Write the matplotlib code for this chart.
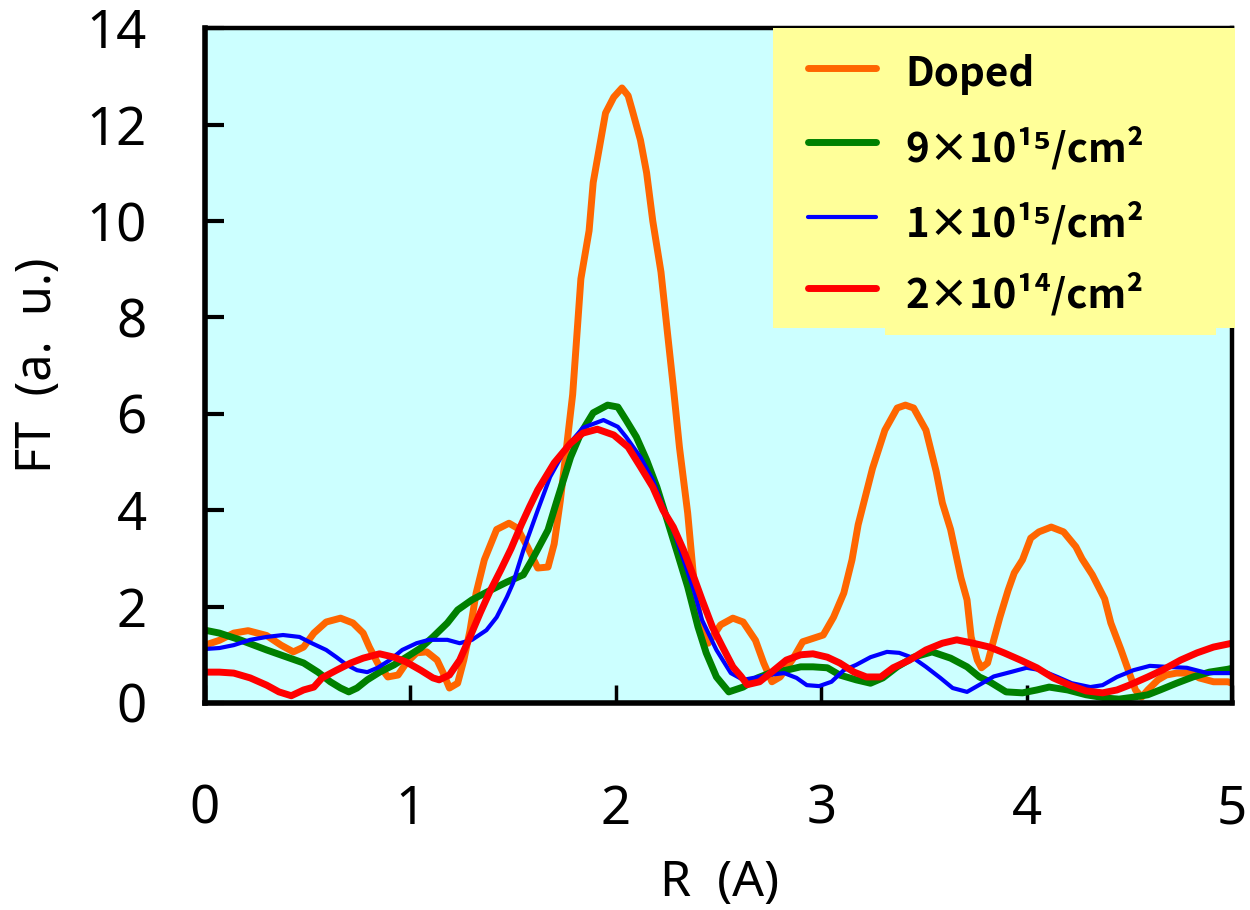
import matplotlib
matplotlib.use('Agg')
import matplotlib.pyplot as plt
from matplotlib.patches import Rectangle
from matplotlib.lines import Line2D

plt.rcParams['font.family'] = ['Noto Sans', 'DejaVu Sans']

# R (A) and FT amplitude for each sample
r_doped = [0.00, 0.07, 0.14, 0.21, 0.30, 0.37, 0.43, 0.48, 0.53, 0.59, 0.66, 0.72, 0.77, 0.80,
           0.84, 0.89, 0.94, 0.98, 1.03, 1.08, 1.13, 1.16, 1.19, 1.23, 1.26, 1.29, 1.32, 1.36,
           1.42, 1.48, 1.52, 1.57, 1.62, 1.67, 1.70, 1.73, 1.76, 1.79, 1.81, 1.83, 1.87, 1.89,
           1.95, 1.99, 2.03, 2.06, 2.08, 2.12, 2.15, 2.18, 2.22, 2.25, 2.28, 2.31, 2.35, 2.38,
           2.41, 2.45, 2.51, 2.57, 2.62, 2.68, 2.72, 2.76, 2.80, 2.86, 2.91, 3.01, 3.06, 3.11,
           3.15, 3.18, 3.25, 3.31, 3.37, 3.41, 3.45, 3.51, 3.56, 3.59, 3.63, 3.68, 3.71, 3.73,
           3.76, 3.78, 3.81, 3.84, 3.87, 3.91, 3.94, 3.98, 4.02, 4.06, 4.12, 4.18, 4.24, 4.27,
           4.32, 4.38, 4.41, 4.46, 4.50, 4.53, 4.56, 4.59, 4.64, 4.68, 4.73, 4.80, 4.84, 4.91,
           4.98, 5.00]
ft_doped = [1.20, 1.30, 1.45, 1.50, 1.40, 1.20, 1.06, 1.16, 1.45, 1.68, 1.76, 1.66, 1.45, 1.16,
            0.83, 0.54, 0.58, 0.83, 1.04, 1.06, 0.89, 0.62, 0.31, 0.41, 0.89, 1.50, 2.28, 2.97,
            3.60, 3.73, 3.63, 3.24, 2.80, 2.82, 3.30, 4.20, 5.30, 6.40, 7.60, 8.80, 9.80, 10.80,
            12.24, 12.57, 12.76, 12.60, 12.30, 11.68, 11.00, 10.00, 8.94, 7.74, 6.56, 5.30, 3.94, 2.55,
            1.72, 1.24, 1.62, 1.76, 1.68, 1.30, 0.83, 0.44, 0.54, 0.90, 1.27, 1.41, 1.78, 2.28,
            2.97, 3.70, 4.87, 5.66, 6.12, 6.18, 6.12, 5.66, 4.80, 4.15, 3.60, 2.60, 2.14, 1.37,
            0.89, 0.73, 0.83, 1.31, 1.78, 2.34, 2.70, 2.97, 3.42, 3.55, 3.65, 3.55, 3.24, 2.99,
            2.66, 2.16, 1.66, 1.10, 0.62, 0.27, 0.12, 0.27, 0.48, 0.58, 0.62, 0.62, 0.52, 0.44,
            0.44, 0.41]

r_9e15 = [0.00, 0.07, 0.17, 0.30, 0.40, 0.48, 0.55, 0.61, 0.66, 0.70, 0.74, 0.79, 0.85, 0.92,
          0.98, 1.05, 1.11, 1.18, 1.23, 1.30, 1.39, 1.47, 1.55, 1.60, 1.67, 1.71, 1.78, 1.83,
          1.89, 1.96, 2.01, 2.05, 2.10, 2.15, 2.20, 2.25, 2.30, 2.35, 2.40, 2.44, 2.49, 2.55,
          2.62, 2.69, 2.75, 2.83, 2.90, 2.96, 3.03, 3.09, 3.17, 3.24, 3.30, 3.37, 3.45, 3.54,
          3.63, 3.71, 3.77, 3.82, 3.90, 3.98, 4.05, 4.11, 4.20, 4.29, 4.39, 4.45, 4.52, 4.59,
          4.65, 4.73, 4.81, 4.89, 4.98, 5.00]
ft_9e15 = [1.51, 1.45, 1.31, 1.10, 0.95, 0.83, 0.64, 0.44, 0.31, 0.23, 0.31, 0.48, 0.64, 0.79,
           0.95, 1.14, 1.37, 1.66, 1.93, 2.14, 2.34, 2.51, 2.66, 3.03, 3.59, 4.15, 5.10, 5.60,
           6.02, 6.18, 6.14, 5.87, 5.52, 5.04, 4.48, 3.80, 3.11, 2.41, 1.58, 1.04, 0.54, 0.23,
           0.33, 0.52, 0.62, 0.68, 0.75, 0.75, 0.73, 0.58, 0.48, 0.41, 0.52, 0.75, 0.95, 1.06,
           0.93, 0.75, 0.54, 0.44, 0.23, 0.21, 0.27, 0.33, 0.27, 0.17, 0.10, 0.08, 0.12, 0.17,
           0.27, 0.41, 0.54, 0.64, 0.70, 0.72]

r_1e15 = [0.00, 0.07, 0.14, 0.22, 0.30, 0.38, 0.46, 0.52, 0.59, 0.64, 0.69, 0.74, 0.79, 0.84,
          0.90, 0.96, 1.03, 1.09, 1.18, 1.24, 1.30, 1.37, 1.42, 1.47, 1.50, 1.55, 1.62, 1.68,
          1.76, 1.84, 1.94, 2.01, 2.05, 2.12, 2.18, 2.23, 2.28, 2.33, 2.38, 2.42, 2.49, 2.56,
          2.62, 2.67, 2.74, 2.82, 2.88, 2.93, 2.99, 3.05, 3.11, 3.17, 3.24, 3.32, 3.38, 3.45,
          3.51, 3.58, 3.64, 3.71, 3.78, 3.84, 3.93, 4.00, 4.07, 4.15, 4.22, 4.31, 4.37, 4.44,
          4.52, 4.60, 4.68, 4.78, 4.88, 4.98, 5.00]
ft_1e15 = [1.12, 1.14, 1.20, 1.31, 1.37, 1.41, 1.37, 1.24, 1.10, 0.95, 0.79, 0.68, 0.64, 0.73,
           0.89, 1.10, 1.24, 1.31, 1.31, 1.24, 1.31, 1.51, 1.78, 2.20, 2.49, 3.17, 4.00, 4.69,
           5.31, 5.71, 5.87, 5.73, 5.52, 5.10, 4.63, 4.07, 3.59, 2.97, 2.34, 1.72, 1.10, 0.62,
           0.48, 0.52, 0.58, 0.62, 0.52, 0.37, 0.35, 0.44, 0.68, 0.79, 0.95, 1.06, 1.04, 0.93,
           0.75, 0.52, 0.31, 0.23, 0.40, 0.55, 0.65, 0.73, 0.68, 0.54, 0.41, 0.33, 0.37, 0.54,
           0.68, 0.77, 0.75, 0.73, 0.62, 0.62, 0.62]

r_2e14 = [0.00, 0.07, 0.14, 0.22, 0.30, 0.36, 0.42, 0.48, 0.53, 0.57, 0.64, 0.71, 0.77, 0.85,
          0.92, 0.98, 1.05, 1.11, 1.14, 1.19, 1.24, 1.29, 1.34, 1.39, 1.44, 1.49, 1.54, 1.58,
          1.62, 1.70, 1.78, 1.84, 1.91, 1.99, 2.06, 2.12, 2.18, 2.23, 2.28, 2.33, 2.38, 2.42,
          2.47, 2.52, 2.57, 2.61, 2.64, 2.70, 2.77, 2.83, 2.90, 2.96, 3.03, 3.09, 3.16, 3.22,
          3.29, 3.35, 3.43, 3.51, 3.59, 3.66, 3.74, 3.82, 3.89, 3.97, 4.05, 4.13, 4.21, 4.29,
          4.37, 4.44, 4.50, 4.59, 4.66, 4.75, 4.83, 4.91, 5.00]
ft_2e14 = [0.64, 0.64, 0.62, 0.52, 0.37, 0.23, 0.15, 0.27, 0.33, 0.52, 0.68, 0.83, 0.93, 1.02,
           0.95, 0.85, 0.68, 0.52, 0.48, 0.58, 0.89, 1.37, 1.87, 2.34, 2.76, 3.20, 3.70, 4.07,
           4.42, 4.98, 5.39, 5.60, 5.68, 5.56, 5.31, 4.90, 4.48, 4.00, 3.65, 3.17, 2.61, 2.14,
           1.58, 1.16, 0.75, 0.55, 0.38, 0.44, 0.68, 0.89, 1.00, 1.02, 0.95, 0.83, 0.64, 0.54,
           0.54, 0.73, 0.89, 1.10, 1.24, 1.31, 1.24, 1.16, 1.04, 0.89, 0.73, 0.52, 0.37, 0.25,
           0.21, 0.27, 0.37, 0.54, 0.68, 0.89, 1.04, 1.16, 1.24]

labels = ['Doped', '9×10¹⁵/cm²', '1×10¹⁵/cm²', '2×10¹⁴/cm²']
colors = ['#FF6600', '#008000', '#0000FF', '#FF0000']
widths = [5, 5, 3, 5]

fig = plt.figure(figsize=(12.5, 9.1), dpi=100)
ax = fig.add_axes([0.164, 0.2275, 0.8216, 0.7415])
ax.set_facecolor('#CCFFFF')

series = [(r_doped, ft_doped), (r_9e15, ft_9e15), (r_1e15, ft_1e15), (r_2e14, ft_2e14)]
for (r, ft), c, w in zip(series, colors, widths):
    ax.plot(r, ft, color=c, lw=w, solid_joinstyle='round')

ax.set_xlim(0, 5)
ax.set_ylim(0, 14)
ax.set_xticks(range(6))
ax.set_yticks(range(0, 15, 2))
ax.tick_params(axis='y', direction='in', length=14, width=3, labelsize=38, pad=42)
ax.tick_params(axis='x', direction='in', length=13, width=2.5, labelsize=38, pad=58)
for side in ['left', 'bottom']:
    ax.spines[side].set_linewidth(4)
for side in ['top', 'right']:
    ax.spines[side].set_linewidth(3.2)

ax.set_xlabel('R  (A)', fontsize=36)
ax.xaxis.set_label_coords(0.501, -0.23)
ax.set_ylabel('FT  (a.  u.)', fontsize=35)
ax.yaxis.set_label_coords(-0.138, 0.5)

# legend box drawn by hand
ax.add_patch(Rectangle((0.553, 0.556), 0.45, 0.444, transform=ax.transAxes,
                       facecolor='#FFFF99', edgecolor='none', zorder=5, clip_on=False))
ax.add_patch(Rectangle((0.662, 0.545), 0.322, 0.02, transform=ax.transAxes,
                       facecolor='#FFFF99', edgecolor='none', zorder=5, clip_on=False))
rows_y = [0.941, 0.831, 0.72, 0.615]
for lab, c, w, y in zip(labels, colors, widths, rows_y):
    ax.add_line(Line2D([0.587, 0.653], [y, y], transform=ax.transAxes, color=c, lw=w,
                       solid_capstyle='round', zorder=6))
    ax.text(0.682, y - 0.01, lab, transform=ax.transAxes, fontsize=29, fontweight='bold',
            family=['Noto Sans CJK JP', 'DejaVu Sans'], va='center', ha='left', zorder=6)

fig.savefig('out.png', dpi=100)
